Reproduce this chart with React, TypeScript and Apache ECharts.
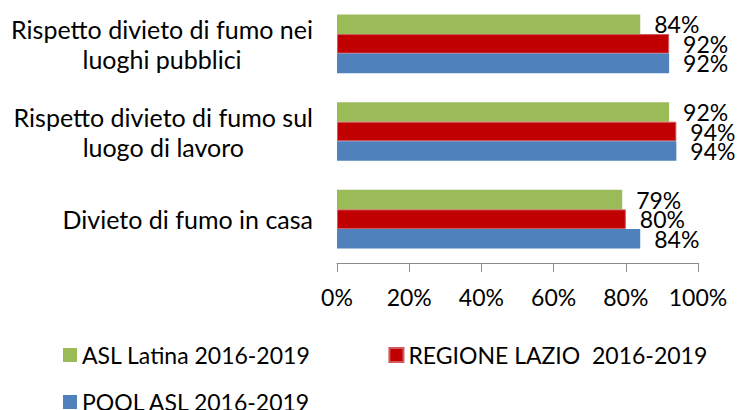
import React, { useEffect, useRef } from "react";
import * as echarts from "echarts";

const categories = [
  "Rispetto divieto di fumo nei\nluoghi pubblici",
  "Rispetto divieto di fumo sul\nluogo di lavoro",
  "Divieto di fumo in casa",
];
const seriesNames = ["ASL Latina 2016-2019", "REGIONE LAZIO  2016-2019", "POOL ASL 2016-2019"];
const aslLatina = [84, 92, 79];
const regioneLazio = [92, 94, 80];
const poolAsl = [92, 94, 84];
const xTicks = { min: 0, max: 100, interval: 20 };

const FONT = "Lato";
const FS = 23;

export default function App() {
  const ref = useRef<HTMLDivElement>(null);
  useEffect(() => {
    if (!ref.current) return;
    const chart = echarts.init(ref.current, undefined, { renderer: "svg" });
    const labelCfg = {
      show: true,
      position: "right",
      distance: 14,
      formatter: (p: any) => `${p.value}%`,
      color: "#000",
      fontFamily: FONT,
      fontSize: FS,
    };
    const mk = (name: string, data: number[], color: string, border?: string) => ({
      name,
      type: "bar",
      data,
      barGap: "0%",
      barCategoryGap: "33%",
      itemStyle: border ? { color, borderColor: border, borderWidth: 1 } : { color },
      label: labelCfg,
    });
    chart.setOption({
      animation: false,
      backgroundColor: "#fff",
      textStyle: { fontFamily: FONT },
      grid: { left: 337, right: 52, top: 0, bottom: 147, containLabel: false },
      xAxis: {
        type: "value",
        min: xTicks.min,
        max: xTicks.max,
        interval: xTicks.interval,
        splitLine: { show: false },
        axisLine: { show: true, lineStyle: { color: "#8c8c8c", width: 1 } },
        axisTick: { show: true, length: 9, lineStyle: { color: "#8c8c8c" } },
        axisLabel: {
          formatter: "{value}%",
          color: "#000",
          fontFamily: FONT,
          fontSize: FS,
          margin: 22,
        },
      },
      yAxis: {
        type: "category",
        data: categories,
        inverse: true,
        axisLine: { show: false },
        axisTick: { show: false },
        axisLabel: {
          margin: 24,
          align: "right",
          formatter: (v: string) => v.split("\n").map((l) => `{c|${l}}`).join("\n"),
          rich: {
            c: {
              align: "center",
              color: "#000",
              fontFamily: FONT,
              fontSize: 25,
              lineHeight: 30,
            },
          },
        },
      },
      legend: [
        {
          data: [seriesNames[0], seriesNames[1]],
          left: 58,
          top: 338,
          icon: "rect",
          itemWidth: 14,
          itemHeight: 14,
          itemGap: 78,
          textStyle: { color: "#000", fontFamily: FONT, fontSize: FS, lineHeight: 24 },
        },
        {
          data: [seriesNames[2]],
          left: 58,
          top: 385,
          icon: "rect",
          itemWidth: 14,
          itemHeight: 14,
          textStyle: { color: "#000", fontFamily: FONT, fontSize: FS, lineHeight: 24 },
        },
      ],
      series: [
        mk(seriesNames[0], aslLatina, "#9BBB59"),
        mk(seriesNames[1], regioneLazio, "#C00000", "#D0585A"),
        mk(seriesNames[2], poolAsl, "#4F81BD"),
      ],
    });
    return () => chart.dispose();
  }, []);
  return (
    <div
      ref={ref}
      style={{ position: "absolute", left: 0, top: 0, width: 750, height: 410 }}
    />
  );
}
